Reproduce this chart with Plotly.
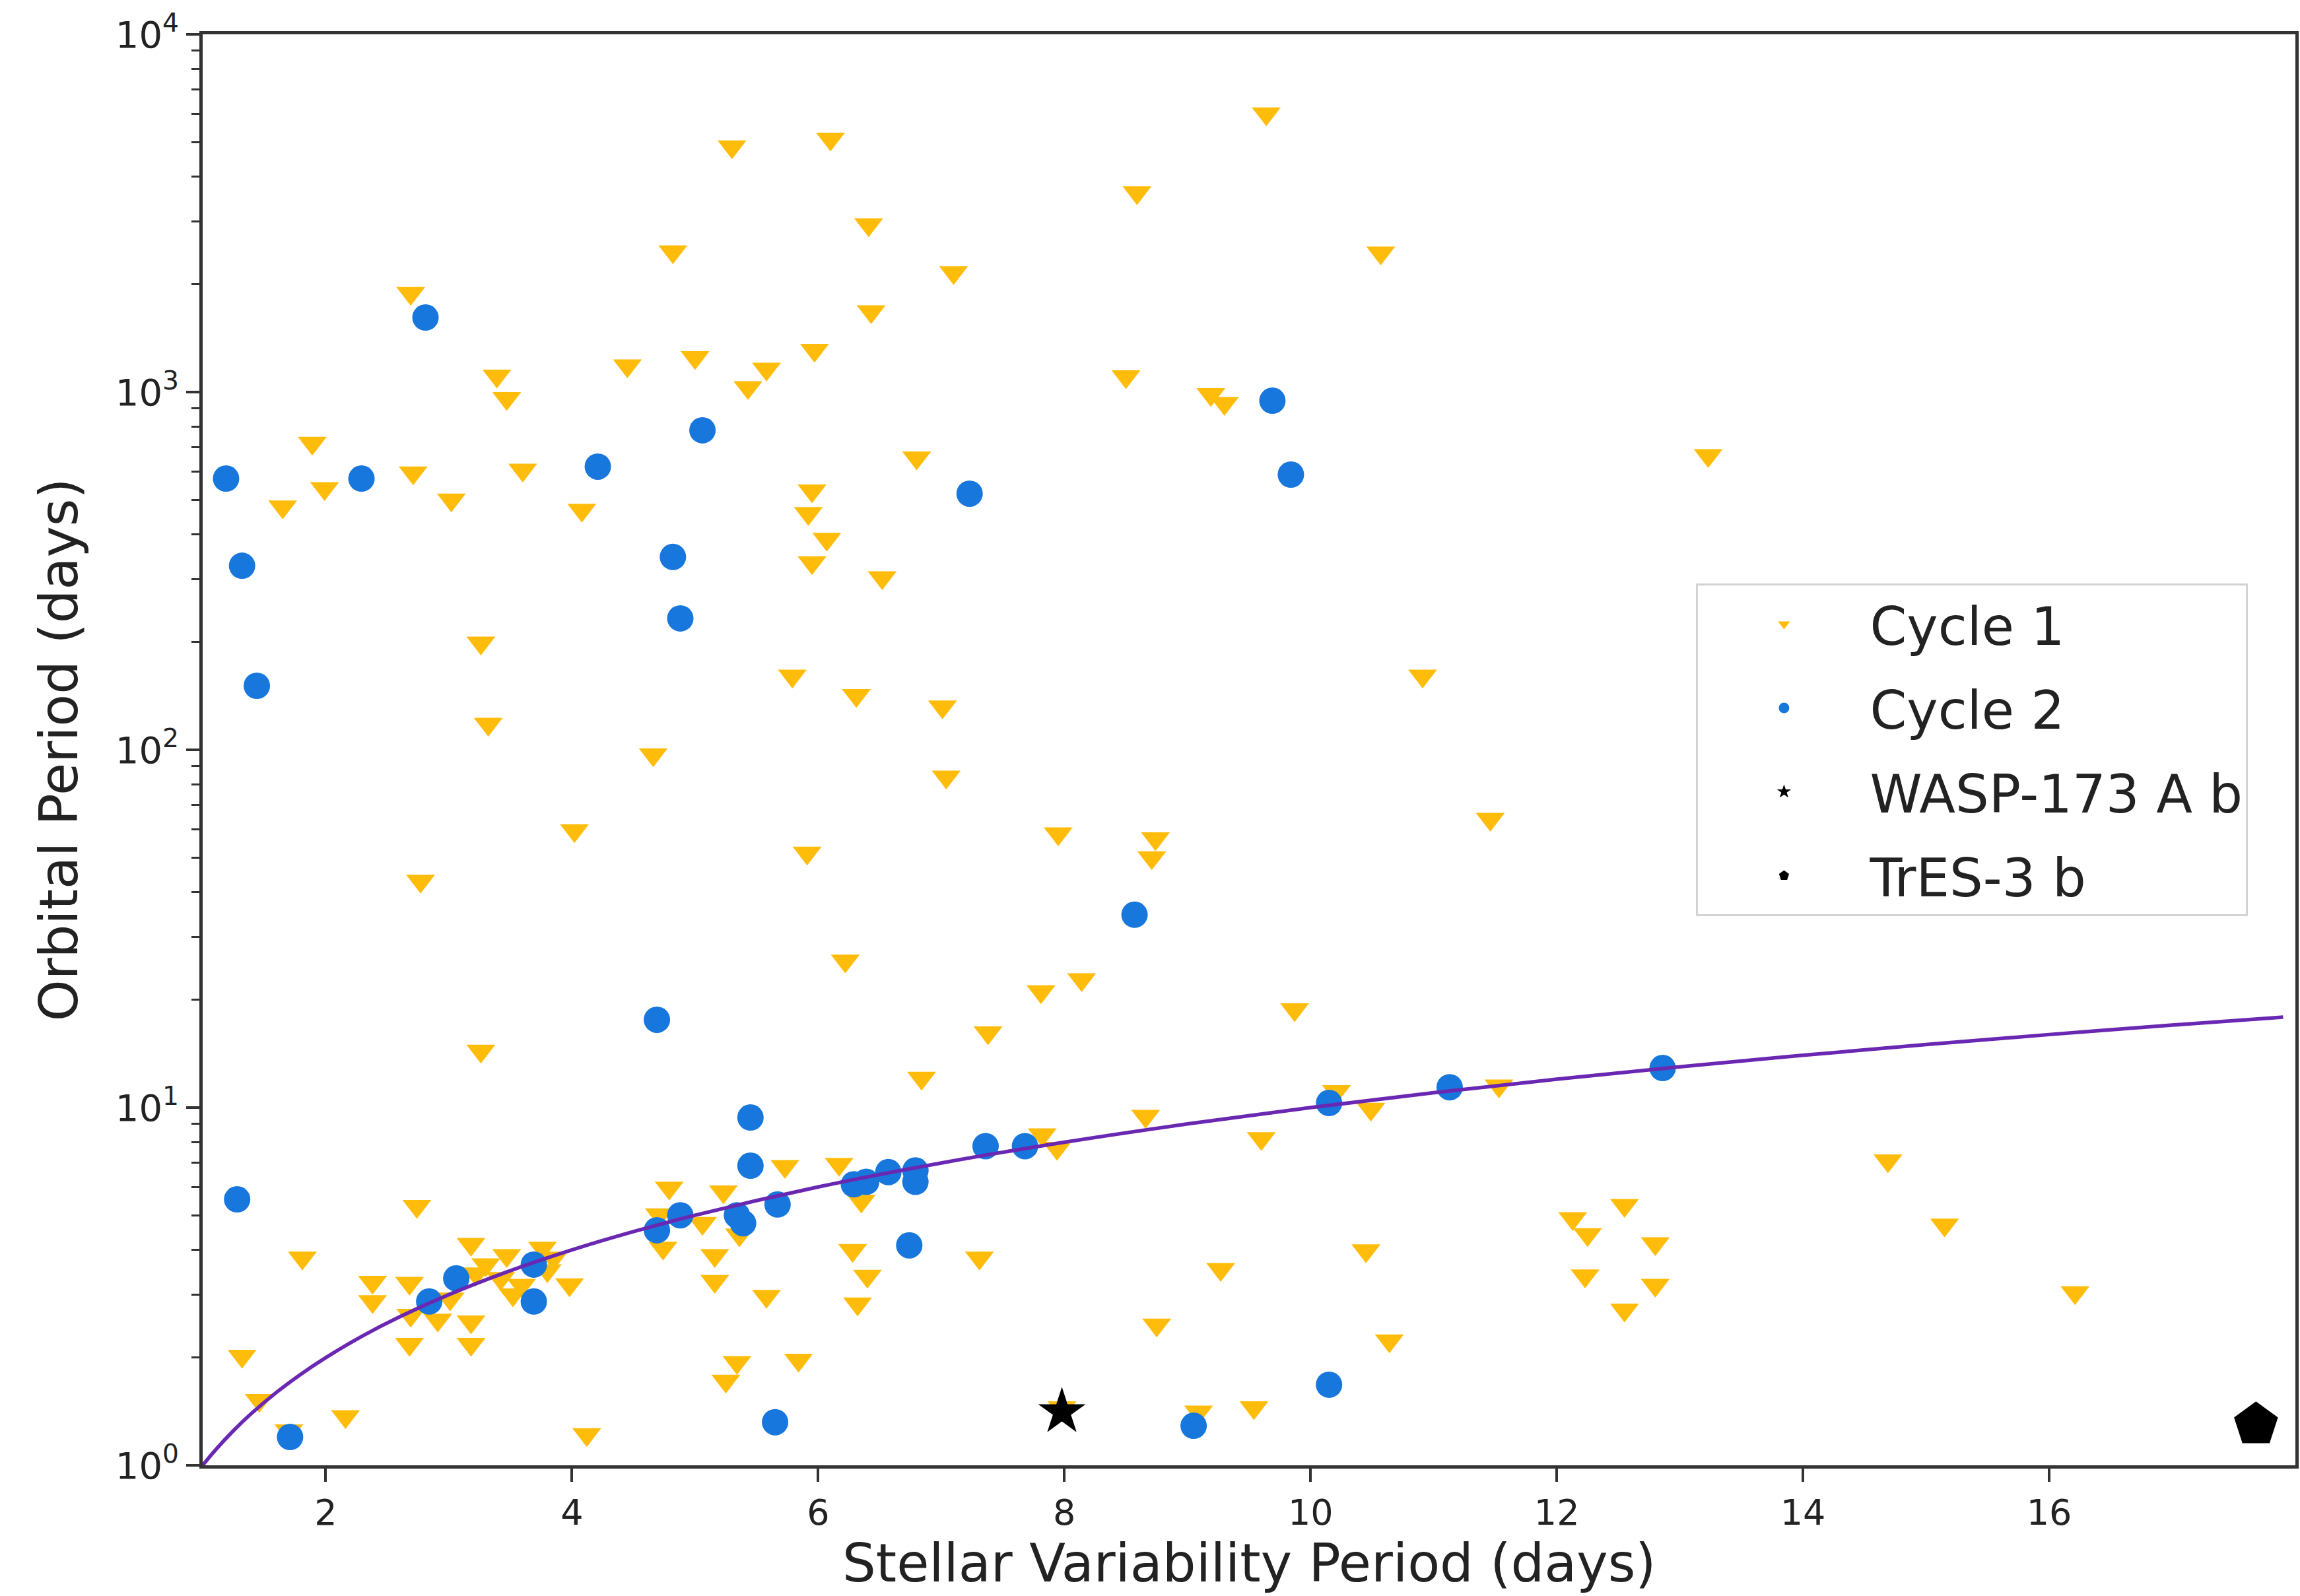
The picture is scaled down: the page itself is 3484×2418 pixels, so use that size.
import plotly.graph_objects as go

# ---------------- data ----------------
cycle1_x = [9.64, 5.30, 6.10, 8.59, 6.41, 4.82, 10.57, 7.10, 2.69, 6.43, 5.97, 5.00, 4.45, 5.58,
            3.39, 5.43, 3.47, 8.50, 9.19, 9.30, 1.89, 1.99, 1.65, 2.71, 3.02, 3.60, 4.08, 6.80,
            5.95, 5.92, 6.07, 5.95, 6.52, 13.23, 3.26, 3.32, 5.79, 6.31, 7.01, 10.91, 4.66, 7.04,
            11.46, 4.02, 2.77, 5.91, 7.95, 8.74, 8.71, 6.22, 8.14, 7.81, 7.38, 9.87, 3.26, 6.84,
            2.74, 1.81, 1.32, 1.46, 2.16, 4.12, 1.70,
            2.38, 2.38, 2.68, 2.69, 2.68, 2.91, 3.01, 3.18, 3.22, 3.30, 3.18, 3.18, 3.47, 3.42,
            3.52, 3.59, 3.76, 3.85, 3.98, 3.80,
            4.79, 4.71, 4.74, 5.06, 5.23, 5.16, 5.16, 5.36, 5.73, 6.17, 6.35, 6.28, 6.40, 6.32,
            5.58, 5.84, 5.34, 5.25,
            7.31, 7.82, 7.94, 8.66, 9.60, 10.21, 10.49, 11.53, 9.27, 10.45, 8.75, 10.64, 9.09,
            9.54, 7.98,
            12.13, 12.25, 12.55, 12.23, 12.55, 12.80, 12.80, 14.69, 15.15, 16.21]
cycle1_y = [6000, 4850, 5100, 3610, 2940, 2470, 2450, 2160, 1890, 1680, 1310, 1250, 1185, 1160,
            1110, 1030, 960, 1105, 985, 930, 720, 538, 478, 595, 500, 606, 468, 655,
            530, 458, 388, 334, 303, 665, 199, 118, 161, 142, 132, 161, 97, 84,
            64, 59.5, 43, 51.5, 58.3, 56.5, 50, 25.7, 22.8, 21.1, 16.2, 18.8, 14.4, 12.1,
            5.3, 3.8, 2.02, 1.52, 1.37, 1.22, 1.25,
            3.25, 2.87, 3.23, 2.63, 2.18, 2.55, 2.92, 4.15, 3.43, 3.64, 2.52, 2.18, 3.86, 3.33,
            3.0, 3.19, 4.05, 3.8, 3.2, 3.5,
            5.96, 5.02, 4.05, 4.75, 5.82, 3.86, 3.27, 4.41, 6.85, 6.95, 5.48, 3.99, 3.38, 2.83,
            2.97, 1.97, 1.94, 1.72,
            3.8, 8.4, 7.7, 9.46, 8.2, 11.1, 9.9, 11.5, 3.53, 3.98, 2.47, 2.23, 1.41,
            1.45, 1.45,
            4.9, 4.42, 5.33, 3.39, 2.72, 4.17, 3.19, 7.1, 4.7, 3.04]

cycle2_x = [1.19, 1.32, 1.44, 2.29, 2.81, 4.21, 4.82, 4.88, 5.06, 7.23, 9.69, 9.84, 8.57, 4.69,
            1.28, 1.71, 2.84, 3.06, 3.69, 3.69, 4.69, 4.88, 5.34, 5.39, 5.45, 5.45, 5.67, 5.65,
            6.29, 6.39, 6.57, 6.79, 6.79, 6.74, 7.36, 7.68, 10.15, 11.13, 12.86, 10.15, 9.05]
cycle2_y = [573, 327, 151, 573, 1616, 619, 346, 233, 782, 520, 946, 588, 34.6, 17.6,
            5.54, 1.2, 2.87, 3.33, 3.64, 2.87, 4.54, 5.0, 5.0, 4.75, 9.38, 6.88, 5.36, 1.32,
            6.1, 6.2, 6.6, 6.67, 6.2, 4.12, 7.8, 7.8, 10.3, 11.4, 12.9, 1.68, 1.29]

wasp_x = [7.98]
wasp_y = [1.41]
tres_x = [17.68]
tres_y = [1.30]

# 1:1 synchronisation line (orbital period = stellar period)
sync_x = [1.0, 1.1, 1.25, 1.4, 1.6, 1.8, 2.0, 2.3, 2.6, 3.0, 3.5, 4.0, 4.5, 5.0, 6.0, 7.0,
          8.0, 9.0, 10.0, 11.0, 12.0, 13.0, 14.0, 15.0, 16.0, 17.0, 17.9]
sync_y = [1.0, 1.1, 1.25, 1.4, 1.6, 1.8, 2.0, 2.3, 2.6, 3.0, 3.5, 4.0, 4.5, 5.0, 6.0, 7.0,
          8.0, 9.0, 10.0, 11.0, 12.0, 13.0, 14.0, 15.0, 16.0, 17.0, 17.9]

x_ticks = [2, 4, 6, 8, 10, 12, 14, 16]
y_ticks = [1, 10, 100, 1000, 10000]
y_ticktext = ["10<sup>0</sup>", "10<sup>1</sup>", "10<sup>2</sup>", "10<sup>3</sup>", "10<sup>4</sup>"]
y_minor = [m * 10 ** k for k in range(4) for m in range(2, 10)]

# ---------------- figure ----------------
W, H = 3484, 2418
L, R, T, B = 307, 2, 52, 198
FONT = "DejaVu Sans"
TXT = "#222222"
AX = "#333333"

fig = go.Figure()

fig.add_trace(go.Scatter(
    x=cycle1_x, y=cycle1_y, mode="markers", name="Cycle 1", legendgroup="g1",
    marker=dict(symbol="triangle-down", size=38, color="#FFBC0A", line=dict(width=0))))
fig.add_trace(go.Scatter(
    x=cycle2_x, y=cycle2_y, mode="markers", name="Cycle 2", legendgroup="g2",
    marker=dict(symbol="circle", size=40, color="#1877DC", line=dict(width=0))))
fig.add_trace(go.Scatter(
    x=wasp_x, y=wasp_y, mode="markers", name="WASP-173 A b", legendgroup="g3",
    marker=dict(symbol="star", size=54, color="black", line=dict(width=0))))
fig.add_trace(go.Scatter(
    x=tres_x, y=tres_y, mode="markers", name="TrES-3 b", legendgroup="g4",
    marker=dict(symbol="pentagon", size=70, color="black", line=dict(width=0))))
fig.add_trace(go.Scatter(
    x=sync_x, y=sync_y, mode="lines", line=dict(color="#6A28B2", width=5.5, shape="spline"),
    showlegend=False, hoverinfo="skip"))

fig.update_layout(
    width=W, height=H,
    margin=dict(l=L, r=R, t=T, b=B, pad=0),
    paper_bgcolor="white", plot_bgcolor="white",
    font=dict(family=FONT, color=TXT, size=54),
    showlegend=True,
    legend=dict(
        x=(2573 - L) / (W - L - R), y=(H - B - 884) / (H - T - B),
        xanchor="left", yanchor="top",
        bgcolor="rgba(255,255,255,0.85)", bordercolor="#d3d3d3", borderwidth=3,
        font=dict(family=FONT, size=80, color=TXT),
        traceorder="grouped", tracegroupgap=20,
        itemsizing="trace", itemwidth=250,
    ),
    xaxis=dict(
        range=[1, 18], tickvals=x_ticks, ticktext=[str(v) for v in x_ticks],
        ticks="outside", ticklen=20, tickwidth=4, tickcolor=AX,
        showline=True, mirror=True, linecolor=AX, linewidth=4.5,
        showgrid=False, zeroline=False,
        tickfont=dict(family=FONT, size=54, color=TXT),
    ),
    yaxis=dict(
        type="log", range=[0, 4], tickvals=y_ticks, ticktext=y_ticktext,
        ticks="outside", ticklen=20, tickwidth=4, tickcolor=AX,
        minor=dict(tickvals=y_minor, ticks="outside", ticklen=12, tickwidth=3, tickcolor=AX,
                   showgrid=False),
        showline=True, mirror=True, linecolor=AX, linewidth=4.5,
        showgrid=False, zeroline=False,
        tickfont=dict(family=FONT, size=56, color=TXT),
    ),
    annotations=[
        dict(text="Stellar Variability Period (days)", xref="paper", yref="paper",
             x=0.5, y=-(2368 - (H - B)) / (H - T - B), xanchor="center", yanchor="middle",
             showarrow=False, font=dict(family=FONT, size=80, color=TXT)),
        dict(text="Orbital Period (days)", xref="paper", yref="paper",
             x=-(L - 89) / (W - L - R), y=0.5, xanchor="center", yanchor="middle",
             textangle=-90, showarrow=False, font=dict(family=FONT, size=80, color=TXT)),
    ],
)

fig.write_html("out.html")
